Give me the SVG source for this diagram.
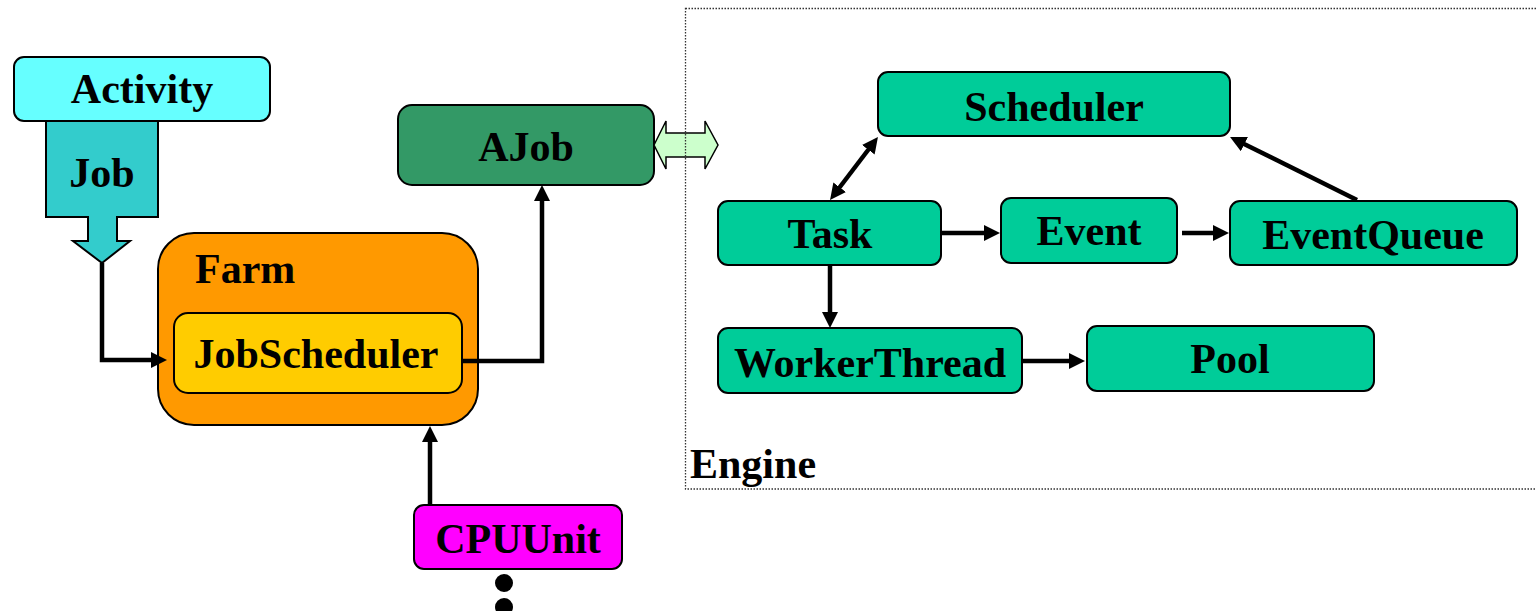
<svg xmlns="http://www.w3.org/2000/svg" width="1536" height="611" viewBox="0 0 1536 611">
  <style>
    .box { stroke: #000; stroke-width: 2; }
    .lbl { font-family: "Liberation Serif", "Times New Roman", serif; font-weight: bold; font-size: 42px; fill: #000; }
    .mid { text-anchor: middle; }
    .wire { fill: none; stroke: #000; stroke-width: 4.5; stroke-linejoin: miter; }
    .eng { fill: #00CC99; }
  </style>
  <defs>
    <marker id="ah" markerUnits="userSpaceOnUse" markerWidth="17" markerHeight="16" refX="6" refY="8" orient="auto-start-reverse">
      <path d="M0,0 L16,8 L0,16 Z" fill="#000"/>
    </marker>
  </defs>

  <rect width="1536" height="611" fill="#fff"/>

  <!-- Job block arrow coming out of Activity -->
  <g id="job">
    <path class="box" fill="#33CCCC" d="M46,121 H158 V217 H117 V241 H130 L102,263 L73,241 H88 V217 H46 Z"/>
    <text class="lbl mid" x="102" y="187">Job</text>
  </g>

  <g id="activity">
    <rect class="box" x="14" y="57" width="256" height="64" rx="10" fill="#66FFFF"/>
    <text class="lbl mid" x="142" y="103">Activity</text>
  </g>

  <g id="farm">
    <rect class="box" x="158" y="233" width="320" height="192" rx="36" fill="#FF9900"/>
    <text class="lbl" x="195" y="283">Farm</text>
  </g>

  <g id="jobscheduler">
    <rect class="box" x="174" y="313" width="288" height="80" rx="14" fill="#FFCC00"/>
    <text class="lbl mid" x="316" y="368">JobScheduler</text>
  </g>

  <g id="ajob">
    <rect class="box" x="398" y="105" width="256" height="80" rx="14" fill="#339966"/>
    <text class="lbl mid" x="526" y="161">AJob</text>
  </g>

  <g id="cpuunit">
    <rect class="box" x="414" y="505" width="208" height="64" rx="10" fill="#FF00FF"/>
    <text class="lbl mid" x="518" y="553">CPUUnit</text>
    <circle cx="504" cy="583" r="9" fill="#000"/>
    <circle cx="504" cy="607" r="9" fill="#000"/>
  </g>

  <!-- two-way link between AJob and the engine -->
  <g id="ajob-engine-link">
    <path fill="#CCFFCC" stroke="#000" stroke-width="1.5" d="M654,145 L666,121 V133 H705 V121 L718,145 L705,169 V157 H666 V169 Z"/>
  </g>

  <g id="engine">
    <rect x="685.5" y="8.5" width="900" height="480.5" fill="none" stroke="#333" stroke-width="1.3" stroke-dasharray="1.5 1.5"/>
    <text class="lbl" x="690" y="478">Engine</text>
  </g>

  <g id="scheduler">
    <rect class="box eng" x="878" y="72" width="352" height="64" rx="10"/>
    <text class="lbl mid" x="1054" y="121">Scheduler</text>
  </g>

  <g id="task">
    <rect class="box eng" x="718" y="201" width="223" height="64" rx="10"/>
    <text class="lbl mid" x="830" y="248">Task</text>
  </g>

  <g id="event">
    <rect class="box eng" x="1001" y="198" width="176" height="65" rx="10"/>
    <text class="lbl mid" x="1089" y="245">Event</text>
  </g>

  <g id="eventqueue">
    <rect class="box eng" x="1230" y="201" width="287" height="64" rx="10"/>
    <text class="lbl mid" x="1373" y="249">EventQueue</text>
  </g>

  <g id="workerthread">
    <rect class="box eng" x="718" y="328" width="304" height="65" rx="10"/>
    <text class="lbl mid" x="870" y="377">WorkerThread</text>
  </g>

  <g id="pool">
    <rect class="box eng" x="1087" y="326" width="287" height="65" rx="10"/>
    <text class="lbl mid" x="1230" y="373">Pool</text>
  </g>

  <g id="connectors">
    <path class="wire" marker-end="url(#ah)" d="M102,263 V360 H157"/>
    <path class="wire" marker-end="url(#ah)" d="M462,361 H542 V195"/>
    <path class="wire" marker-end="url(#ah)" d="M430,505 V436"/>
    <path class="wire" marker-end="url(#ah)" d="M941,233 H990"/>
    <path class="wire" marker-end="url(#ah)" d="M1182,233 H1219"/>
    <path class="wire" marker-end="url(#ah)" d="M830,265 V318"/>
    <path class="wire" marker-end="url(#ah)" d="M1022,361 H1075"/>
    <path class="wire" marker-end="url(#ah)" d="M1357,200 L1239,141.4"/>
    <path class="wire" marker-start="url(#ah)" marker-end="url(#ah)" d="M836.1,192 L871.9,145"/>
  </g>
</svg>
